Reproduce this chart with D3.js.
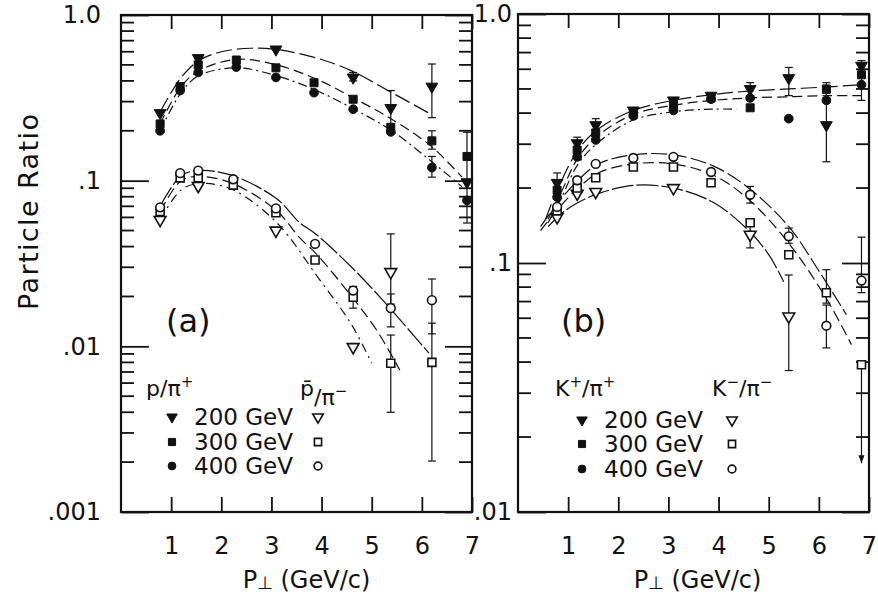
<!DOCTYPE html>
<html>
<head>
<meta charset="utf-8">
<script src="https://cdn.jsdelivr.net/npm/d3@7"></script>
<style>
  body { margin: 0; background: #fff; }
  text { font-family: "DejaVu Sans", sans-serif; fill: #111; }
</style>
</head>
<body>
<svg id="chart" width="878" height="597"></svg>
<script>
// ---- data ----
// panel (a): p/pi+ (filled) and pbar/pi- (open)
let aYTicks = [1, 0.1, 0.01, 0.001];
let aYLabels = ['1.0', '.1', '.01', '.001'];
let aP200 = [[0.78,0.256],[1.54,0.55],[3.09,0.62],[4.63,0.42],[5.38,0.275],[6.2,0.37],[6.9,0.098]];
let aP300 = [[0.78,0.22],[1.18,0.37],[1.54,0.50],[2.3,0.535],[3.09,0.48],[3.85,0.39],[4.63,0.31],[5.38,0.21],[6.2,0.174],[6.9,0.14]];
let aP400 = [[0.78,0.20],[1.18,0.35],[1.54,0.45],[2.3,0.485],[3.09,0.42],[3.85,0.34],[4.63,0.27],[5.38,0.197],[6.2,0.12],[6.9,0.076]];
let aP200Err = [[4.63,0.40,0.45],[5.38,0.20,0.35],[6.2,0.24,0.506]];
let aP300Err = [[6.2,0.155,0.20],[6.9,0.10,0.196]];
let aP400Err = [[6.2,0.105,0.14],[6.9,0.0555,0.10]];
let aPb200 = [[0.78,0.058],[1.54,0.093],[3.09,0.050],[4.63,0.0099],[5.38,0.0281]];
let aPb300 = [[0.78,0.065],[1.18,0.104],[1.54,0.104],[2.24,0.094],[3.09,0.064],[3.87,0.0332],[4.63,0.0198],[5.38,0.0079],[6.2,0.0080]];
let aPb400 = [[0.78,0.069],[1.18,0.111],[1.54,0.115],[2.24,0.102],[3.09,0.068],[3.87,0.0415],[4.63,0.0217],[5.38,0.017],[6.2,0.019]];
let aPb200Err = [[5.38,0.018,0.0477]];
let aPb300Err = [[4.63,0.017,0.023],[5.38,0.004,0.0117],[6.2,0.00203,0.0138]];
let aPb400Err = [[5.38,0.0131,0.0207],[6.2,0.0119,0.0255]];
// fitted curves (a)
let fitA200 = [[0.78,0.26],[1.2,0.42],[1.55,0.53],[2.0,0.6],[2.6,0.63],[3.1,0.62],[3.9,0.55],[4.6,0.46],[5.4,0.34],[6.2,0.25]];
let fitA300 = [[0.78,0.22],[1.2,0.37],[1.55,0.46],[2.3,0.54],[3.1,0.5],[3.9,0.41],[4.6,0.32],[5.4,0.235],[6.2,0.16],[6.8,0.105]];
let fitA400 = [[0.78,0.2],[1.2,0.34],[1.55,0.43],[2.3,0.48],[3.1,0.43],[3.9,0.35],[4.6,0.275],[5.4,0.2],[6.2,0.13],[6.8,0.092]];
let fitAb400 = [[0.78,0.07],[1.2,0.107],[1.55,0.115],[2.2,0.108],[3.1,0.078],[3.57,0.0555],[3.87,0.048],[4.6,0.03],[5.22,0.019],[6.14,0.0091]];
let fitAb300 = [[0.78,0.065],[1.2,0.1],[1.55,0.106],[2.2,0.097],[3.1,0.066],[3.57,0.045],[3.9,0.036],[4.6,0.02],[5.1,0.0125],[5.56,0.0072]];
let fitAb200 = [[0.78,0.058],[1.2,0.088],[1.55,0.096],[2.2,0.089],[3.1,0.056],[3.93,0.026],[4.6,0.0135],[5.0,0.0079]];

// panel (b): K+/pi+ (filled) and K-/pi- (open)
let bYTicks = [1, 0.1, 0.01];
let bYLabels = ['1.0', '.1', '.01'];
let bK200 = [[0.78,0.21],[1.18,0.303],[1.55,0.358],[2.3,0.41],[3.1,0.45],[3.85,0.47],[4.63,0.50],[5.4,0.553],[6.15,0.358],[6.85,0.62]];
let bK300 = [[0.78,0.196],[1.18,0.284],[1.55,0.333],[2.3,0.40],[3.1,0.43],[3.85,0.46],[4.63,0.42],[6.15,0.50],[6.85,0.57]];
let bK400 = [[0.78,0.184],[1.18,0.267],[1.55,0.312],[2.3,0.39],[3.1,0.41],[3.85,0.455],[4.63,0.46],[5.4,0.38],[6.15,0.45],[6.85,0.52]];
let bK200Err = [[0.78,0.17,0.23],[1.18,0.27,0.32],[1.55,0.33,0.38],[4.63,0.47,0.53],[5.4,0.47,0.61],[6.15,0.255,0.48],[6.85,0.45,0.65]];
let bK300Err = [[6.15,0.46,0.53]];
let bK400Err = [];
let bKm200 = [[0.78,0.153],[1.18,0.19],[1.55,0.193],[3.1,0.20],[4.63,0.13],[5.4,0.061]];
let bKm300 = [[0.78,0.162],[1.18,0.20],[1.55,0.22],[2.3,0.243],[3.1,0.243],[3.85,0.21],[4.63,0.145],[5.4,0.108],[6.15,0.076],[6.85,0.039]];
let bKm400 = [[0.78,0.168],[1.18,0.215],[1.55,0.25],[2.3,0.264],[3.1,0.267],[3.85,0.232],[4.63,0.188],[5.4,0.128],[6.15,0.056],[6.85,0.085]];
let bKm200Err = [[4.63,0.115,0.15],[5.4,0.037,0.0895]];
let bKm300Err = [[6.15,0.069,0.094]];
let bKm400Err = [[4.63,0.174,0.203],[5.4,0.12,0.138],[6.15,0.0456,0.0678],[6.85,0.076,0.127]];
let bKmLimits = [[6.85,0.039,0.0157]];
// fitted curves (b)
let fitB200 = [[0.55,0.15],[0.8,0.2],[1.2,0.285],[1.6,0.345],[2.3,0.41],[3.1,0.45],[3.9,0.475],[4.6,0.49],[5.4,0.5],[6.2,0.51],[6.85,0.52]];
let fitB300 = [[0.6,0.15],[0.85,0.19],[1.2,0.265],[1.6,0.325],[2.3,0.395],[3.1,0.43],[3.9,0.45],[4.6,0.46],[5.4,0.465],[6.2,0.47],[6.85,0.47]];
let fitB400 = [[0.6,0.145],[0.85,0.18],[1.2,0.25],[1.6,0.305],[2.3,0.375],[3.1,0.405],[3.9,0.415],[4.35,0.415]];
let fitBm400 = [[0.45,0.14],[0.8,0.175],[1.2,0.215],[1.6,0.25],[2.3,0.272],[3.1,0.272],[3.9,0.245],[4.6,0.2],[5.4,0.14],[6.0,0.093],[6.55,0.062]];
let fitBm300 = [[0.45,0.135],[0.8,0.165],[1.2,0.2],[1.6,0.23],[2.3,0.25],[3.1,0.25],[3.9,0.225],[4.6,0.18],[5.4,0.12],[6.15,0.072],[6.65,0.047]];
let fitBm200 = [[0.6,0.14],[0.9,0.16],[1.2,0.175],[1.6,0.19],[2.3,0.205],[3.1,0.2],[3.9,0.175],[4.6,0.135],[5.0,0.108],[5.3,0.084]];

let xTicks = [1, 2, 3, 4, 5, 6, 7];
let energies = ['200 GeV', '300 GeV', '400 GeV'];

// ---- drawing ----
let svg = d3.select('#chart');
let ink = '#111';

let shapes = {tri: d3.symbolTriangle, sq: d3.symbolSquare, circ: d3.symbolCircle};
let sizes = {tri: 60, sq: 64, circ: 60};

function marker(g, shape, filled, cx, cy, scale) {
    let s = scale || 1;
    g.append('path')
        .attr('d', d3.symbol().type(shapes[shape]).size(sizes[shape] * s)())
        .attr('transform', `translate(${cx},${cy})` + (shape === 'tri' ? ' rotate(180)' : ''))
        .attr('fill', filled ? ink : '#fff')
        .attr('stroke', ink)
        .attr('stroke-width', filled ? 1 : 1.6);
}

function drawPanel(p) {
    let x = d3.scaleLinear().domain([0, 7]).range([p.left, p.right]);
    let y = d3.scaleLog().domain(p.yDomain).range([p.bottom, p.top]);
    let g = svg.append('g');

    // minor log ticks, both sides, pointing inward
    let minors = [];
    let lo = Math.round(Math.log10(p.yDomain[0])), hi = Math.round(Math.log10(p.yDomain[1]));
    for (let e = lo; e < hi; e++) {
        for (let k = 2; k < 10; k++) minors.push(k * Math.pow(10, e));
    }
    [[p.left, 13], [p.right, -13]].forEach(side => {
        g.append('g').selectAll('line')
            .data(minors)
            .enter()
            .append('line')
            .attr('x1', side[0]).attr('x2', side[0] + side[1])
            .attr('y1', d => y(d)).attr('y2', d => y(d))
            .attr('stroke', ink).attr('stroke-width', 1.8);
    });

    let axes = [
        g.append('g').attr('transform', `translate(${p.left},0)`)
            .call(d3.axisLeft(y).tickValues(p.yTicks).tickSize(-28).tickSizeOuter(0).tickPadding(p.yPad)
                .tickFormat((d, i) => p.yLabels[i])),
        g.append('g').attr('transform', `translate(${p.right},0)`)
            .call(d3.axisRight(y).tickValues(p.yTicks).tickSize(-27).tickSizeOuter(0).tickFormat(() => '')),
        g.append('g').attr('transform', `translate(0,${p.bottom})`)
            .call(d3.axisBottom(x).tickValues(xTicks).tickSize(-15).tickSizeOuter(0).tickPadding(25)
                .tickFormat(d3.format('d'))),
        g.append('g').attr('transform', `translate(0,${p.top})`)
            .call(d3.axisTop(x).tickValues(xTicks).tickSize(-14).tickSizeOuter(0).tickFormat(() => ''))
    ];
    axes.forEach(a => {
        a.select('.domain').remove();
        a.selectAll('line').attr('stroke', ink).attr('stroke-width', 1.8);
        a.selectAll('text').attr('font-size', 24).attr('fill', ink)
            .style('font-family', '"DejaVu Sans", sans-serif');
    });

    g.append('rect')
        .attr('x', p.left).attr('y', p.top)
        .attr('width', p.right - p.left).attr('height', p.bottom - p.top)
        .attr('fill', 'none').attr('stroke', ink).attr('stroke-width', 2.2);

    // fitted curves
    let line = d3.line().x(d => x(d[0])).y(d => y(d[1])).curve(d3.curveCatmullRom);
    p.series.forEach(s => {
        g.append('path').datum(s.fit)
            .attr('d', line)
            .attr('fill', 'none')
            .attr('stroke', ink)
            .attr('stroke-width', 1.2)
            .attr('stroke-dasharray', s.dash);
    });

    // error bars
    p.series.forEach(s => {
        s.err.forEach(e => {
            let cx = x(e[0]);
            g.append('line').attr('x1', cx).attr('x2', cx)
                .attr('y1', y(e[1])).attr('y2', y(e[2]))
                .attr('stroke', ink).attr('stroke-width', 1.2);
            [e[1], e[2]].forEach(v => {
                g.append('line').attr('x1', cx - 4).attr('x2', cx + 4)
                    .attr('y1', y(v)).attr('y2', y(v))
                    .attr('stroke', ink).attr('stroke-width', 1.2);
            });
        });
    });

    // upper limit arrows
    (p.limits || []).forEach(l => {
        let cx = x(l[0]);
        g.append('line').attr('x1', cx).attr('x2', cx)
            .attr('y1', y(l[1])).attr('y2', y(l[2]))
            .attr('stroke', ink).attr('stroke-width', 1.2);
        g.append('path')
            .attr('d', `M${cx - 3},${y(l[2]) - 8}L${cx + 3},${y(l[2]) - 8}L${cx},${y(l[2])}Z`)
            .attr('fill', ink);
    });

    // points
    p.series.forEach(s => {
        s.data.forEach(d => marker(g, s.shape, s.filled, x(d[0]), y(d[1])));
    });

    // panel letter
    g.append('text').attr('x', p.tagX).attr('y', 332)
        .attr('font-size', 32).text(p.tag);

    // x title
    let title = g.append('text')
        .attr('x', (p.left + p.right) / 2 + p.titleShift).attr('y', 588)
        .attr('text-anchor', 'middle').attr('font-size', 24);
    title.append('tspan').text('P');
    title.append('tspan').attr('font-size', 18).attr('dy', 1).text('\u22a5');
    title.append('tspan').attr('dy', -1).text(' (GeV/c)');

    // legend
    let lg = p.legend;
    let h1 = g.append('text').attr('x', lg.x1).attr('y', lg.y0).attr('font-size', 22);
    h1.append('tspan').text(lg.head1[0]);
    if (lg.head1[1]) h1.append('tspan').attr('font-size', 15).attr('dy', -9).text(lg.head1[1]);
    h1.append('tspan').attr('dy', lg.head1[1] ? 9 : 0).text(lg.head1[2]);
    h1.append('tspan').attr('font-size', 15).attr('dy', -9).text(lg.head1[3]);
    let h2 = g.append('text').attr('x', lg.x2).attr('y', lg.y0).attr('font-size', 22);
    h2.append('tspan').text(lg.head2[0]);
    h2.append('tspan').attr('font-size', 15).attr('dy', -9).text(lg.head2[1]);
    h2.append('tspan').attr('dy', 9).text(lg.head2[2]);
    h2.append('tspan').attr('font-size', 15).attr('dy', -9).text(lg.head2[3]);

    ['tri', 'sq', 'circ'].forEach((sh, i) => {
        let cy = lg.rows[i];
        marker(g, sh, true, lg.mx1, cy, 0.8);
        marker(g, sh, false, lg.mx2, cy, 0.8);
        g.append('text').attr('x', lg.tx).attr('y', cy + 8)
            .attr('font-size', 23).text(energies[i]);
    });
}

drawPanel({
    left: 121, right: 472, top: 15, bottom: 512,
    yDomain: [0.001, 1], yTicks: aYTicks, yLabels: aYLabels, yPad: 20,
    tag: '(a)', tagX: 166, titleShift: 10,
    series: [
        {data: aP200, err: aP200Err, fit: fitA200, shape: 'tri', filled: true, dash: '16,5'},
        {data: aP300, err: aP300Err, fit: fitA300, shape: 'sq', filled: true, dash: '10,5'},
        {data: aP400, err: aP400Err, fit: fitA400, shape: 'circ', filled: true, dash: '9,4,2,4'},
        {data: aPb200, err: aPb200Err, fit: fitAb200, shape: 'tri', filled: false, dash: '9,5,2,5'},
        {data: aPb300, err: aPb300Err, fit: fitAb300, shape: 'sq', filled: false, dash: '11,5'},
        {data: aPb400, err: aPb400Err, fit: fitAb400, shape: 'circ', filled: false, dash: '22,3'}
    ],
    legend: {x1: 146, x2: 300, y0: 396, head1: ['p', '', '/\u03c0', '+'], head2: ['p\u0304', '', '/\u03c0', '\u2212'],
             mx1: 172, mx2: 318, tx: 194, rows: [417, 442, 466]}
});

drawPanel({
    left: 518, right: 869, top: 14, bottom: 512,
    yDomain: [0.01, 1], yTicks: bYTicks, yLabels: bYLabels, yPad: 6,
    tag: '(b)', tagX: 561, titleShift: 4,
    series: [
        {data: bK200, err: bK200Err, fit: fitB200, shape: 'tri', filled: true, dash: '16,5'},
        {data: bK300, err: bK300Err, fit: fitB300, shape: 'sq', filled: true, dash: '10,5'},
        {data: bK400, err: bK400Err, fit: fitB400, shape: 'circ', filled: true, dash: '9,4,2,4'},
        {data: bKm200, err: bKm200Err, fit: fitBm200, shape: 'tri', filled: false, dash: '22,3'},
        {data: bKm300, err: bKm300Err, fit: fitBm300, shape: 'sq', filled: false, dash: '11,5'},
        {data: bKm400, err: bKm400Err, fit: fitBm400, shape: 'circ', filled: false, dash: '16,4'}
    ],
    limits: bKmLimits,
    legend: {x1: 555, x2: 712, y0: 396, head1: ['K', '+', '/\u03c0', '+'], head2: ['K', '\u2212', '/\u03c0', '\u2212'],
             mx1: 582, mx2: 732, tx: 604, rows: [420, 444, 469]}
});

// shared y title
svg.append('text')
    .attr('transform', 'translate(38,212) rotate(-90)')
    .attr('text-anchor', 'middle')
    .attr('font-size', 27)
    .attr('textLength', 196).attr('lengthAdjust', 'spacing')
    .text('Particle Ratio');
</script>
</body>
</html>
